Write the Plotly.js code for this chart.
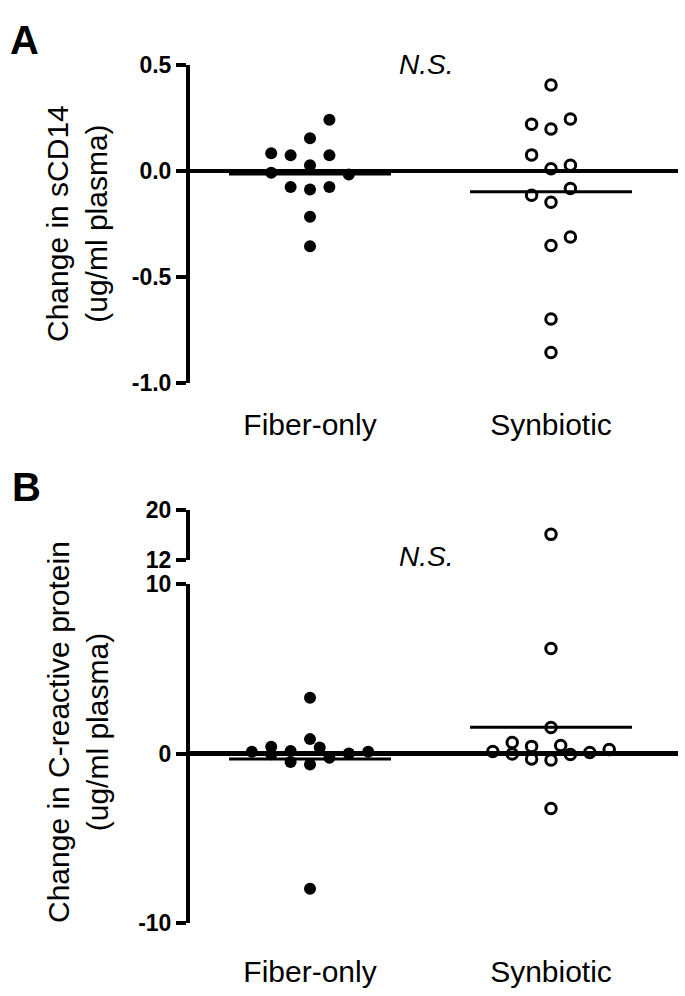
<!DOCTYPE html>
<html>
<head>
<meta charset="utf-8">
<script src="https://cdn.plot.ly/plotly-3.0.1.min.js"></script>
<style>html,body{margin:0;padding:0;background:#fff;}#chart{width:685px;height:996px;}</style>
</head>
<body>
<div id="chart"></div>
<script>
// ---- data ----
const groups = ['Fiber-only', 'Synbiotic'];

// Panel A: change in sCD14 (ug/ml plasma)
const sCD14Fiber = [0.242, 0.155, 0.084, 0.074, 0.074, 0.027, -0.008, -0.016, -0.076, -0.087, -0.076, -0.216, -0.355];
const sCD14FiberCol = [1, 0, -2, -1, 1, 0, -2, 2, -1, 0, 1, 0, 0];
const sCD14Syn = [0.406, 0.245, 0.221, 0.198, 0.076, 0.027, 0.011, -0.083, -0.114, -0.147, -0.311, -0.351, -0.698, -0.856];
const sCD14SynCol = [0, 1, -1, 0, -1, 1, 0, 1, -1, 0, 1, 0, 0, 0];

// Panel B: change in C-reactive protein (ug/ml plasma)
const crpFiber = [3.3, 0.85, 0.35, 0.1, 0.4, -0.05, 0.15, -0.5, -0.65, -0.25, 0.0, 0.1, -8.0];
const crpFiberCol = [0, 0, 0.5, -3, -2, -2, -1, -1, 0, 1, 2, 3, 0];
const crpSyn = [16.1, 6.21, 1.54, 0.65, 0.12, -0.03, 0.42, -0.32, -0.39, 0.47, -0.06, 0.06, 0.23, -3.25];
const crpSynCol = [0, 0, 0, -2, -3, -2, -1, -1, 0, 0.5, 1, 2, 3, 0];

const ticksA = [-1, -0.5, 0, 0.5];
const ticksALabels = ['-1.0', '-0.5', '0.0', '0.5'];
const ticksBLow = [-10, 0, 10];
const ticksBLowLabels = ['-10', '0', '10'];
const ticksBHigh = [12, 20];
const ticksBHighLabels = ['12', '20'];
const breakAt = 11;

// ---- styling ----
const COLSTEP = 0.0805;
const HALF = 0.336;
const FONT = 'Liberation Sans, Arial, Helvetica, sans-serif';
const NARROW = 'Liberation Sans Narrow, Arial Narrow, Liberation Sans, sans-serif';
const mean = a => a.reduce((s, v) => s + v, 0) / a.length;
const pos = (g, cols) => cols.map(c => g + c * COLSTEP);

const filled = {symbol: 'circle', size: 12, color: '#000'};
const open = {symbol: 'circle-open', size: 10.5, color: '#000', line: {width: 3, color: '#000'}};

function pts(g, vals, cols, marker, xa, ya, filter) {
  const xs = [], ys = [];
  const px = pos(g, cols);
  vals.forEach((v, i) => { if (!filter || filter(v)) { xs.push(px[i]); ys.push(v); } });
  return {type: 'scatter', mode: 'markers', x: xs, y: ys, marker: marker, xaxis: xa, yaxis: ya, hoverinfo: 'skip', cliponaxis: false};
}
function meanLine(g, vals, xa, ya) {
  const m = mean(vals);
  return {type: 'scatter', mode: 'lines', x: [g - HALF, g + HALF], y: [m, m], line: {color: '#000', width: 3}, xaxis: xa, yaxis: ya, hoverinfo: 'skip'};
}

const traces = [
  pts(1, sCD14Fiber, sCD14FiberCol, filled, 'x', 'y'),
  pts(2, sCD14Syn, sCD14SynCol, open, 'x', 'y'),
  meanLine(1, sCD14Fiber, 'x', 'y'),
  meanLine(2, sCD14Syn, 'x', 'y'),
  pts(1, crpFiber, crpFiberCol, filled, 'x2', 'y2', v => v <= breakAt),
  pts(2, crpSyn, crpSynCol, open, 'x2', 'y2', v => v <= breakAt),
  pts(2, crpSyn, crpSynCol, open, 'x2', 'y3', v => v > breakAt),
  meanLine(1, crpFiber, 'x2', 'y2'),
  meanLine(2, crpSyn, 'x2', 'y2')
];

const H = 996, W = 685;
const py = p => 1 - p / H;
const pxp = p => p / W;
const xDom = [pxp(190), pxp(678)];
const xRange = [0.502, 2.527];

const yAxisBase = {
  showline: true, linewidth: 4, linecolor: '#000',
  ticks: 'outside', ticklen: 10, tickwidth: 4, tickcolor: '#000',
  tickfont: {family: NARROW, size: 23, color: '#000', weight: 'bold'},
  showgrid: false, zeroline: true, zerolinewidth: 4.5, zerolinecolor: '#000',
  tickmode: 'array', fixedrange: true
};
const xAxisBase = {
  domain: xDom, range: xRange, showline: false, showgrid: false, zeroline: false,
  ticks: '', tickmode: 'array', tickvals: [1, 2], ticktext: groups,
  tickfont: {family: FONT, size: 30, color: '#000'}, fixedrange: true
};

const layout = {
  width: W, height: H,
  margin: {l: 0, r: 0, t: 0, b: 0},
  paper_bgcolor: '#fff', plot_bgcolor: 'rgba(0,0,0,0)',
  showlegend: false,
  xaxis: Object.assign({}, xAxisBase, {anchor: 'y', ticklabelstandoff: 21}),
  xaxis2: Object.assign({}, xAxisBase, {anchor: 'y2', ticklabelstandoff: 28}),
  yaxis: Object.assign({}, yAxisBase, {domain: [py(383), py(65)], range: [-1, 0.5], tickvals: ticksA, ticktext: ticksALabels, anchor: 'x'}),
  yaxis2: Object.assign({}, yAxisBase, {domain: [py(922.7), py(584.3)], range: [-10, 10], tickvals: ticksBLow, ticktext: ticksBLowLabels, anchor: 'x2'}),
  yaxis3: Object.assign({}, yAxisBase, {domain: [py(560), py(510)], range: [12, 20], tickvals: ticksBHigh, ticktext: ticksBHighLabels, anchor: 'x2', zeroline: false}),
  annotations: [
    {text: '<b>A</b>', xref: 'paper', yref: 'paper', x: pxp(8), y: py(40), xanchor: 'left', yanchor: 'middle', showarrow: false, font: {family: FONT, size: 40, color: '#000'}},
    {text: '<b>B</b>', xref: 'paper', yref: 'paper', x: pxp(10), y: py(487), xanchor: 'left', yanchor: 'middle', showarrow: false, font: {family: FONT, size: 40, color: '#000'}},
    {text: '<i>N.S.</i>', xref: 'paper', yref: 'paper', x: pxp(426), y: py(64), xanchor: 'center', yanchor: 'middle', showarrow: false, font: {family: FONT, size: 28, color: '#000'}},
    {text: '<i>N.S.</i>', xref: 'paper', yref: 'paper', x: pxp(426), y: py(556), xanchor: 'center', yanchor: 'middle', showarrow: false, font: {family: FONT, size: 28, color: '#000'}},
    {text: 'Change in sCD14<br>(ug/ml plasma)', xref: 'paper', yref: 'paper', x: pxp(77), y: py(224), xanchor: 'center', yanchor: 'middle', textangle: -90, showarrow: false, font: {family: FONT, size: 30, color: '#000'}},
    {text: 'Change in C-reactive protein<br>(ug/ml plasma)', xref: 'paper', yref: 'paper', x: pxp(78), y: py(732), xanchor: 'center', yanchor: 'middle', textangle: -90, showarrow: false, font: {family: FONT, size: 30, color: '#000'}}
  ]
};

Plotly.newPlot('chart', traces, layout, {staticPlot: true, displayModeBar: false});
</script>
</body>
</html>
